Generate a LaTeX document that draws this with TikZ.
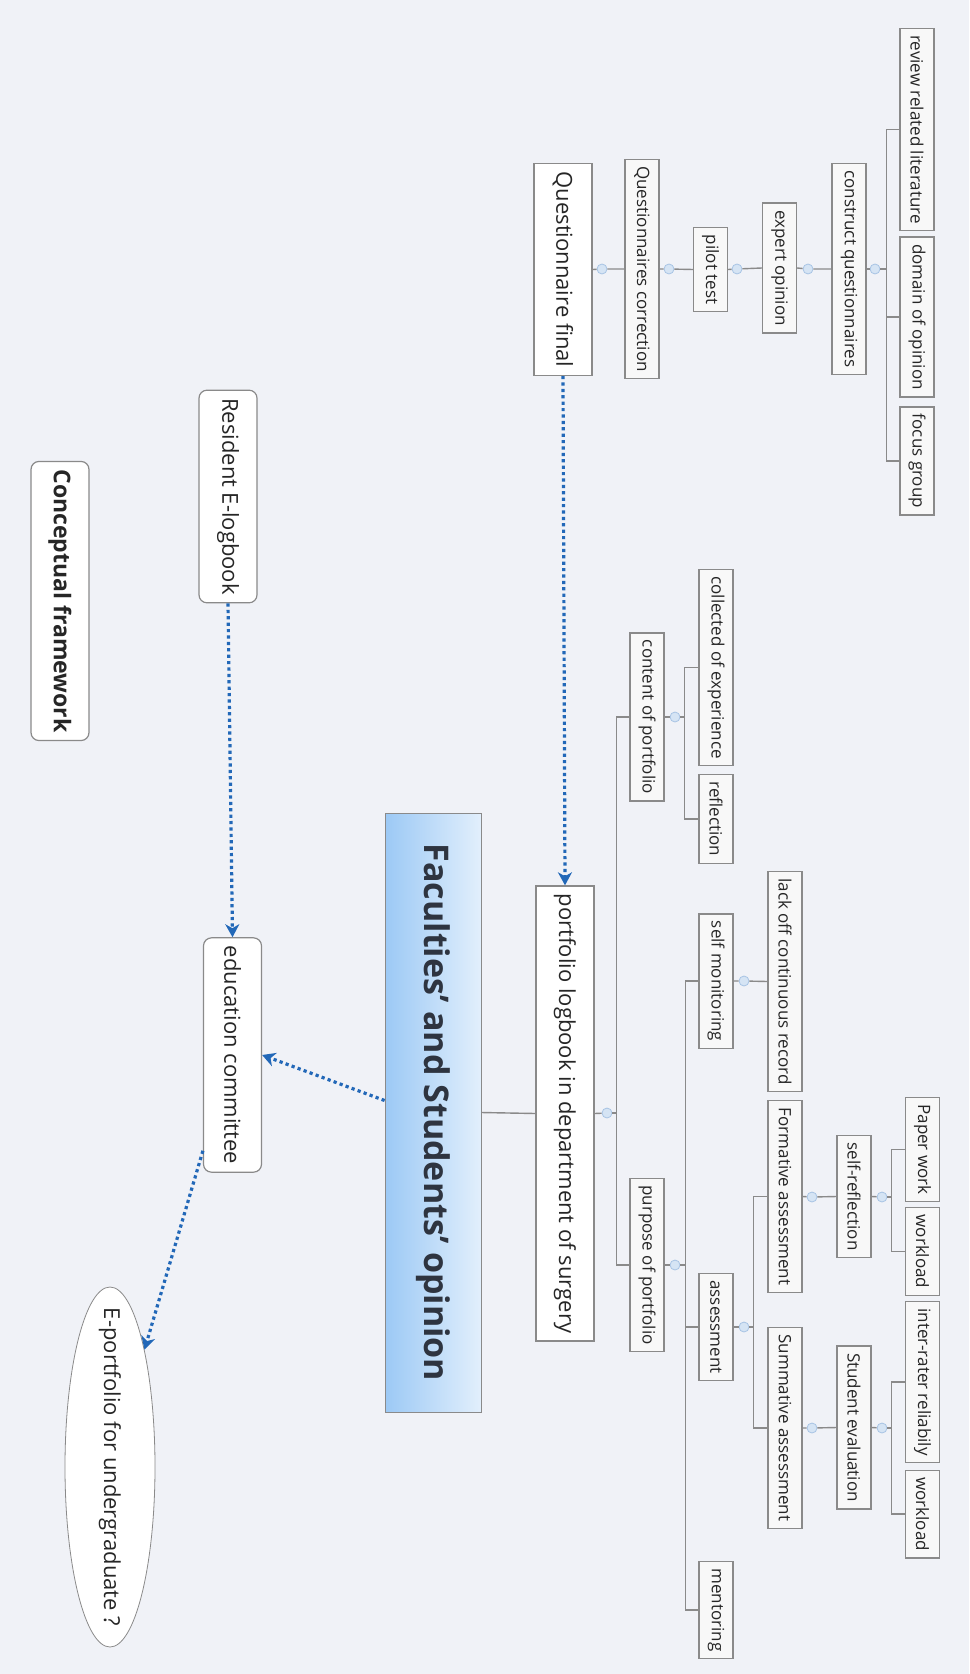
\documentclass[tikz,border=0pt]{standalone}
\usepackage{fontspec}
\setmainfont{Open Sans}
\usetikzlibrary{arrows.meta,shapes.geometric}
\definecolor{pagebg}{HTML}{F0F2F7}
\definecolor{boxline}{HTML}{8A8A8A}
\definecolor{subfill}{HTML}{F8F8F8}
\definecolor{linkblue}{HTML}{2268B8}
\definecolor{knobfill}{HTML}{D5E4F4}
\definecolor{knobline}{HTML}{A8C4E4}
\definecolor{hubdark}{HTML}{9CC9F5}
\definecolor{hublight}{HTML}{E2EFFC}
\definecolor{hubtext}{HTML}{2E3440}
\tikzset{
  topic/.style={draw=boxline, fill=white, rotate=-90, line width=0.6pt,
                font=\fontsize{11}{13}\selectfont, text=black!85,
                minimum height=29pt, inner xsep=4pt},
  roundtopic/.style={topic, rounded corners=4pt},
  subtopic/.style={draw=boxline, fill=subfill, rotate=-90, line width=0.6pt,
                   font=\fontsize{8.5}{10}\selectfont, text=black!85,
                   minimum height=17pt, inner xsep=3.5pt, inner ysep=0pt},
  knob/.style={circle, draw=knobline, fill=knobfill, minimum size=5pt, inner sep=0pt},
  branch/.style={draw=boxline, line width=0.7pt},
  link/.style={linkblue, line width=1.6pt, dash pattern=on 1.6pt off 1.6pt,
               -{Stealth[length=6.5pt, width=7pt, inset=2pt]}},
}

\begin{document}
\begin{tikzpicture}[x=0.5pt, y=-0.5pt]
  \useasboundingbox (0,0) rectangle (969,1674);
  \fill[pagebg] (0,0) rectangle (969,1674);

  \node[rotate=-90, draw=boxline, left color=hubdark, right color=hublight,
        minimum width=299.5pt, minimum height=48pt, text=hubtext,
        font=\bfseries\fontsize{17}{20}\selectfont] (hub) at (433,1112.5)
        {Faculties' and Students' opinion};

  \node[roundtopic, font=\bfseries\fontsize{11.5}{14}\selectfont] (concept) at (60,601) {Conceptual framework};
  \node[roundtopic] (resident) at (228,496.5) {Resident E-logbook};
  \node[roundtopic] (educ) at (232.5,1055) {education committee};
  \node[ellipse, draw=boxline, fill=white, rotate=-90, inner sep=0pt,
        minimum width=180pt, minimum height=45pt, text=black!85,
        font=\fontsize{11}{13}\selectfont] (eport) at (110,1467)
        {\makebox[0pt]{E-portfolio for undergraduate ?}};

  \node[topic] (qfinal) at (563,269.5) {Questionnaire final};
  \node[subtopic] (qcorr) at (642,269) {Questionnaires correction};
  \node[subtopic] (pilot) at (710.5,269.5) {pilot test};
  \node[subtopic] (expert) at (779.5,268) {expert opinion};
  \node[subtopic] (construct) at (849,269) {construct questionnaires};
  \node[subtopic] (review) at (917,129.5) {review related literature};
  \node[subtopic] (domain) at (917,317) {domain of opinion};
  \node[subtopic] (focus) at (917,461) {focus group};
  \node[knob] (k1) at (602,269) {};
  \node[knob] (k2) at (669,269) {};
  \node[knob] (k3) at (737,269) {};
  \node[knob] (k4) at (808,269) {};
  \node[knob] (k5) at (875,269) {};

  \node[topic] (portfolio) at (565,1113.5) {portfolio logbook in department of surgery};
  \node[subtopic] (content) at (647,717) {content of portfolio};
  \node[subtopic] (purpose) at (647,1265) {purpose of portfolio};
  \node[subtopic] (collected) at (716,667.5) {collected of experience};
  \node[subtopic] (reflect) at (716,819) {reflection};
  \node[subtopic] (selfmon) at (716,981) {self monitoring};
  \node[subtopic] (assess) at (716,1327) {assessment};
  \node[subtopic] (mentor) at (716,1610) {mentoring};
  \node[subtopic] (lack) at (785,981.5) {lack off continuous record};
  \node[subtopic] (formative) at (785,1196.5) {Formative assessment};
  \node[subtopic] (summative) at (785,1428) {Summative assessment};
  \node[subtopic] (selfref) at (854,1196.5) {self-reflection};
  \node[subtopic] (studeval) at (854,1427.5) {Student evaluation};
  \node[subtopic] (paper) at (922.5,1149.5) {Paper work};
  \node[subtopic] (work1) at (922.5,1251.5) {workload};
  \node[subtopic] (interrater) at (922.5,1382) {inter-rater reliabily};
  \node[subtopic] (work2) at (922.5,1514) {workload};
  \node[knob] (k6) at (607,1113) {};
  \node[knob] (k7) at (675,717) {};
  \node[knob] (k8) at (675,1265) {};
  \node[knob] (k9) at (744,981) {};
  \node[knob] (k10) at (744,1327) {};
  \node[knob] (k11) at (812,1197) {};
  \node[knob] (k12) at (812,1428) {};
  \node[knob] (k13) at (882,1197) {};
  \node[knob] (k14) at (882,1428) {};

  \draw[branch] (qfinal.north) -- (k1) -- (qcorr.south);
  \draw[branch] (qcorr.north) -- (k2) -- (pilot.south);
  \draw[branch] (pilot.north) -- (k3) -- (expert.south);
  \draw[branch] (expert.north) -- (k4) -- (construct.south);
  \draw[branch] (construct.north) -- (k5);
  \foreach \leaf in {review, domain, focus}
    \draw[branch] (k5.east) -- ++(6,0) |- (\leaf.south);

  \draw[branch] (hub.north) -- (portfolio.south);
  \draw[branch] (portfolio.north) -- (k6);
  \foreach \leaf in {content, purpose}
    \draw[branch] (k6.east) -- ++(4,0) |- (\leaf.south);
  \draw[branch] (content.north) -- (k7);
  \foreach \leaf in {collected, reflect}
    \draw[branch] (k7.east) -- ++(4,0) |- (\leaf.south);
  \draw[branch] (purpose.north) -- (k8);
  \foreach \leaf in {selfmon, assess, mentor}
    \draw[branch] (k8.east) -- ++(5,0) |- (\leaf.south);
  \draw[branch] (selfmon.north) -- (k9) -- (lack.south);
  \draw[branch] (assess.north) -- (k10);
  \foreach \leaf in {formative, summative}
    \draw[branch] (k10.east) -- ++(4,0) |- (\leaf.south);
  \draw[branch] (formative.north) -- (k11) -- (selfref.south);
  \draw[branch] (summative.north) -- (k12) -- (studeval.south);
  \draw[branch] (selfref.north) -- (k13);
  \foreach \leaf in {paper, work1}
    \draw[branch] (k13.east) -- ++(4,0) |- (\leaf.south);
  \draw[branch] (studeval.north) -- (k14);
  \foreach \leaf in {interrater, work2}
    \draw[branch] (k14.east) -- ++(4,0) |- (\leaf.south);

  \draw[link] (qfinal.east) -- (portfolio.west);
  \draw[link] (resident.east) -- (educ.west);
  \draw[link] ([yshift=6pt]hub.south) -- (educ.north);
  \draw[link] ([yshift=11pt]educ.south east) -- (eport);
\end{tikzpicture}
\end{document}
